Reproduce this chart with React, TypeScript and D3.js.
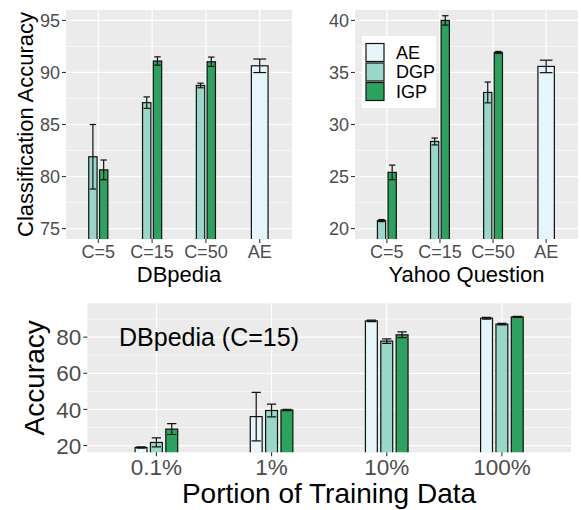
import React from 'react';
import * as d3 from 'd3';

const colors = { AE: '#E5F5F9', DGP: '#99D8C9', IGP: '#2CA25F' };
const methods = ['AE', 'DGP', 'IGP'];

// top panels
const topCategories = ['C=5', 'C=15', 'C=50', 'AE'];

const dbpediaAE = [null, null, null, 90.64];
const dbpediaAEErr = [null, null, null, 0.65];
const dbpediaDGP = [81.9, 87.1, 88.75, null];
const dbpediaDGPErr = [3.1, 0.55, 0.22, null];
const dbpediaIGP = [80.64, 91.1, 91.03, null];
const dbpediaIGPErr = [0.95, 0.4, 0.45, null];
const dbpediaTicks = [75, 80, 85, 90, 95];
const dbpediaMinor = [77.5, 82.5, 87.5, 92.5];

const yahooAE = [null, null, null, 35.58];
const yahooAEErr = [null, null, null, 0.6];
const yahooDGP = [20.77, 28.37, 33.08, null];
const yahooDGPErr = [0.1, 0.33, 1.0, null];
const yahooIGP = [25.4, 40.0, 36.92, null];
const yahooIGPErr = [0.7, 0.45, 0.1, null];
const yahooTicks = [20, 25, 30, 35, 40];
const yahooMinor = [22.5, 27.5, 32.5, 37.5];

// bottom panel
const portions = ['0.1%', '1%', '10%', '100%'];
const portionAE = [18.9, 36.0, 89.0, 90.5];
const portionAEErr = [0.4, 13.4, 0.4, 0.5];
const portionDGP = [21.7, 39.4, 77.8, 87.2];
const portionDGPErr = [2.5, 3.5, 1.2, 0.4];
const portionIGP = [29.1, 39.7, 81.3, 91.2];
const portionIGPErr = [3.0, 0.4, 1.6, 0.3];
const portionTicks = [20, 40, 60, 80];
const portionMinor = [30, 50, 70, 90];

const FONT = '"Liberation Sans", Arial, sans-serif';

type Series = { name: string; values: (number | null)[]; errs: (number | null)[] };

function Panel({ id, x0, x1, y0, y1, categories, series, yDomain, ticks, minor, tickSize }: any) {
  const x = d3.scalePoint<string>().domain(categories).range([x0, x1]).padding(0.6);
  const y = d3.scaleLinear().domain(yDomain).range([y1, y0]);
  const band = x.step();

  const bars: any[] = [];
  categories.forEach((c: string, i: number) => {
    const present = (series as Series[]).filter(s => s.values[i] != null);
    const n = present.length;
    const slot = (0.4 * band) / n;
    const bw = (0.31 * band) / n;
    const cap = (0.24 * band) / n;
    present.forEach((s, j) => {
      const cx = x(c)! - 0.2 * band + slot * (j + 0.5);
      bars.push({ key: c + s.name, cx, bw, cap, v: s.values[i]!, e: s.errs[i]!, name: s.name });
    });
  });

  return (
    <g>
      <defs>
        <clipPath id={id}>
          <rect x={x0} y={y0} width={x1 - x0} height={y1 - y0} />
        </clipPath>
      </defs>
      <rect x={x0} y={y0} width={x1 - x0} height={y1 - y0} fill="#EBEBEB" />
      {minor.map((t: number) => (
        <line key={'m' + t} x1={x0} x2={x1} y1={y(t)} y2={y(t)} stroke="#fff" strokeWidth={0.6} />
      ))}
      {ticks.map((t: number) => (
        <line key={'t' + t} x1={x0} x2={x1} y1={y(t)} y2={y(t)} stroke="#fff" strokeWidth={1.2} />
      ))}
      {categories.map((c: string) => (
        <line key={'v' + c} x1={x(c)} x2={x(c)} y1={y0} y2={y1} stroke="#fff" strokeWidth={1.2} />
      ))}
      <g clipPath={`url(#${id})`}>
        {bars.map(b => (
          <rect key={b.key} x={b.cx - b.bw / 2} y={y(b.v)} width={b.bw} height={y1 + 5 - y(b.v)}
            fill={(colors as any)[b.name]} stroke="#111" strokeWidth={1.2} />
        ))}
        {bars.map(b => (
          <g key={'e' + b.key} stroke="#111" strokeWidth={1.2}>
            <line x1={b.cx} x2={b.cx} y1={y(b.v + b.e)} y2={y(b.v - b.e)} />
            <line x1={b.cx - b.cap / 2} x2={b.cx + b.cap / 2} y1={y(b.v + b.e)} y2={y(b.v + b.e)} />
            <line x1={b.cx - b.cap / 2} x2={b.cx + b.cap / 2} y1={y(b.v - b.e)} y2={y(b.v - b.e)} />
          </g>
        ))}
      </g>
      {ticks.map((t: number) => (
        <g key={'yl' + t}>
          <line x1={x0 - 4} x2={x0} y1={y(t)} y2={y(t)} stroke="#333" strokeWidth={1.1} />
          <text x={x0 - 6} y={y(t)} dy="0.36em" textAnchor="end" fontSize={tickSize} fill="#4D4D4D" fontFamily={FONT}>{t}</text>
        </g>
      ))}
      {categories.map((c: string) => (
        <g key={'xl' + c}>
          <line x1={x(c)} x2={x(c)} y1={y1} y2={y1 + 4} stroke="#333" strokeWidth={1.1} />
          <text x={x(c)} y={y1 + 4 + tickSize * 0.82} textAnchor="middle" fontSize={tickSize} fill="#4D4D4D" fontFamily={FONT}>{c}</text>
        </g>
      ))}
    </g>
  );
}

export default function App() {
  const dbpediaSeries: Series[] = [
    { name: 'AE', values: dbpediaAE, errs: dbpediaAEErr },
    { name: 'DGP', values: dbpediaDGP, errs: dbpediaDGPErr },
    { name: 'IGP', values: dbpediaIGP, errs: dbpediaIGPErr },
  ];
  const yahooSeries: Series[] = [
    { name: 'AE', values: yahooAE, errs: yahooAEErr },
    { name: 'DGP', values: yahooDGP, errs: yahooDGPErr },
    { name: 'IGP', values: yahooIGP, errs: yahooIGPErr },
  ];
  const portionSeries: Series[] = [
    { name: 'AE', values: portionAE, errs: portionAEErr },
    { name: 'DGP', values: portionDGP, errs: portionDGPErr },
    { name: 'IGP', values: portionIGP, errs: portionIGPErr },
  ];

  return (
    <svg width={581} height={510} style={{ position: 'absolute', left: 0, top: 0, background: '#fff' }}>
      <Panel id="clipA" x0={66} x1={292} y0={10} y1={239} categories={topCategories} series={dbpediaSeries}
        yDomain={[74, 96]} ticks={dbpediaTicks} minor={dbpediaMinor} tickSize={18} />
      <Panel id="clipB" x0={355} x1={578} y0={10} y1={239} categories={topCategories} series={yahooSeries}
        yDomain={[19, 41]} ticks={yahooTicks} minor={yahooMinor} tickSize={18} />
      <Panel id="clipC" x0={87.3} x1={571} y0={303.3} y1={452.3} categories={portions} series={portionSeries}
        yDomain={[16.25, 98.75]} ticks={portionTicks} minor={portionMinor} tickSize={22.5} />

      <text transform="rotate(-90)" x={-124.5} y={33} textAnchor="middle" fontSize={22} fontFamily={FONT}>Classification Accuracy</text>
      <text x={179} y={282} textAnchor="middle" fontSize={22} fontFamily={FONT}>DBpedia</text>
      <text x={466.5} y={282} textAnchor="middle" fontSize={22} fontFamily={FONT}>Yahoo Question</text>

      <text transform="rotate(-90)" x={-377.8} y={43.5} textAnchor="middle" fontSize={28} fontFamily={FONT}>Accuracy</text>
      <text x={329} y={503} textAnchor="middle" fontSize={28} fontFamily={FONT}>Portion of Training Data</text>
      <text x={119} y={346} fontSize={25} fontFamily={FONT}>DBpedia (C=15)</text>

      <g>
        <rect x={362} y={36} width={74} height={72} fill="#fff" />
        {methods.map((m, i) => (
          <g key={m}>
            <rect x={366} y={43.5 + i * 19.5} width={18} height={18} fill={(colors as any)[m]} stroke="#111" strokeWidth={1.2} />
            <text x={396} y={43.5 + i * 19.5 + 9} dy="0.36em" fontSize={18} fontFamily={FONT}>{m}</text>
          </g>
        ))}
      </g>
    </svg>
  );
}
